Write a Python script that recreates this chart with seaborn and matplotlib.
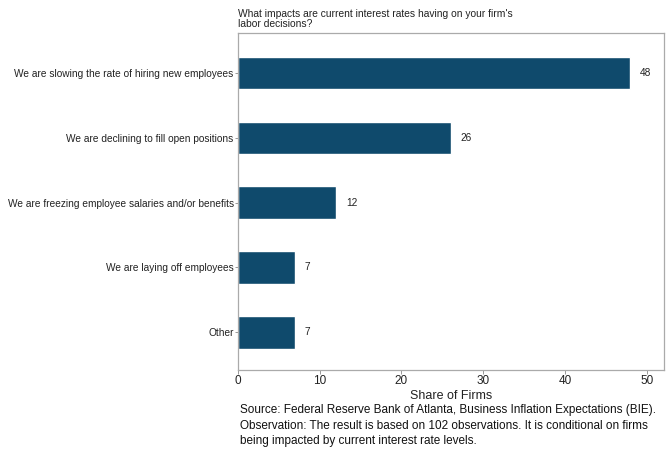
import pandas as pd
import seaborn as sns
import matplotlib.pyplot as plt

categories = ["We are slowing the rate of hiring new employees",
              "We are declining to fill open positions",
              "We are freezing employee salaries and/or benefits",
              "We are laying off employees",
              "Other"]
shares = [48, 26, 12, 7, 7]

df = pd.DataFrame({"impact": categories, "share": shares})

sns.set_theme(style="white")
plt.rcParams['font.family'] = ['Liberation Sans', 'DejaVu Sans']

fig, ax = plt.subplots(figsize=(6.7, 4.5), dpi=100)
fig.subplots_adjust(left=0.355, right=0.991, top=0.927, bottom=0.178)

sns.barplot(data=df, x="share", y="impact", color="#0f4a6c", saturation=1,
            width=0.5, orient="h", ax=ax)

# value labels next to each bar
for i, v in enumerate(shares):
    ax.text(v + 1.2, i, str(v), va="center", ha="left", fontsize=7.3, color="#222222")

ax.set_xlim(0, 52.1)
ax.set_ylim(4.58, -0.62)
ax.set_xticks([0, 10, 20, 30, 40, 50])
ax.set_xlabel("Share of Firms", fontsize=9, labelpad=2, color="#222222")
ax.set_ylabel("")
ax.tick_params(axis="y", labelsize=7.3, length=2, pad=1)
ax.tick_params(axis="x", labelsize=8.5, length=3, pad=1)
ax.tick_params(axis="both", colors="#888888", labelcolor="#222222", width=0.6,
               left=True, bottom=True)
for s in ax.spines.values():
    s.set_color("#aaaaaa")
    s.set_linewidth(0.9)

ax.set_title("What impacts are current interest rates having on your firm's\nlabor decisions?",
             loc="left", fontsize=7.4, color="#222222", pad=4, linespacing=1.0)

fig.text(0.358, 0.006, "Source: Federal Reserve Bank of Atlanta, Business Inflation Expectations (BIE).\n"
         "Observation: The result is based on 102 observations. It is conditional on firms\n"
         "being impacted by current interest rate levels.",
         fontsize=8.5, color="#111111", ha="left", va="bottom", linespacing=1.4)

fig.savefig("out.png", dpi=100)
